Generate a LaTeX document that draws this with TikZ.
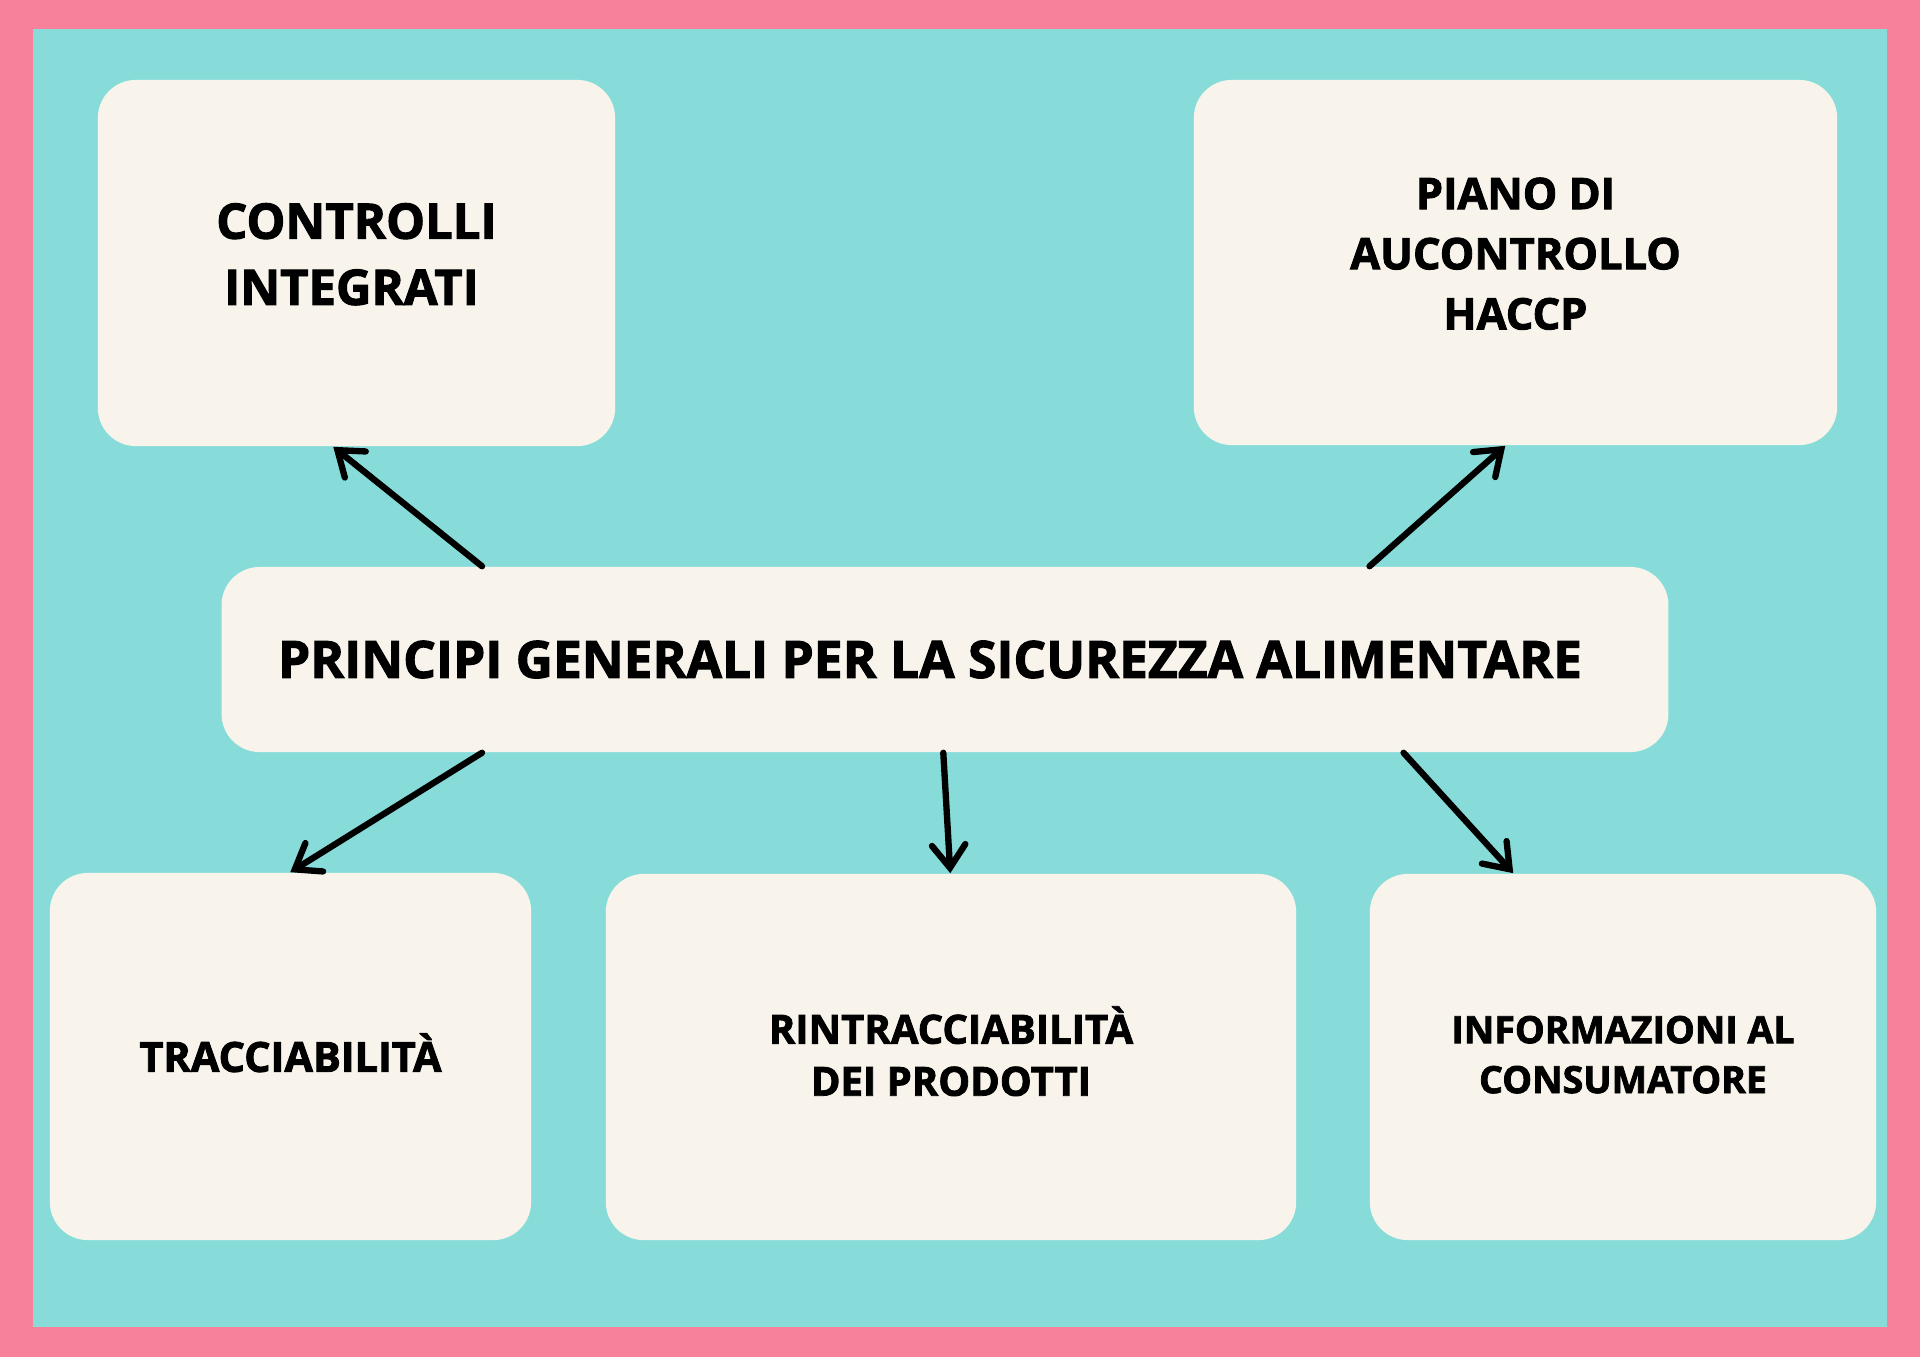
\documentclass[tikz,border=0pt]{standalone}
\usepackage{fontspec}
\setmainfont{Open Sans}[BoldFeatures={FakeBold=2}]
\usetikzlibrary{arrows.meta}
\definecolor{rim}{HTML}{F7819A}
\definecolor{lagoon}{HTML}{87DCDA}
\definecolor{cream}{HTML}{F8F4EC}

\begin{document}
\begin{tikzpicture}[x=0.01cm,y=-0.01cm,
	card/.style={fill=cream,rounded corners=0.38cm,inner sep=0pt,align=center},
	arr/.style={-{Straight Barb[length=6.5pt,width=9.5pt,line cap=round]},line width=1.8pt,line cap=round}]
%
	\fill[rim] (0,0) rectangle (1920,1357);
	\fill[lagoon] (33,29) rectangle (1887,1327);
%
	\node[card,minimum width=14.46cm,minimum height=1.85cm,font=\fontsize{14.64}{18}\bfseries] (main) at (945,659.5) {PRINCIPI GENERALI PER LA SICUREZZA ALIMENTARE\hspace*{0.3cm}};
	\node[card,minimum width=5.17cm,minimum height=3.66cm,text depth=0.18cm,font=\fontsize{13.94}{18.8}\bfseries] (ctrl) at (356.5,263) {CONTROLLI\\INTEGRATI\hspace*{0.1cm}};
	\node[card,minimum width=6.43cm,minimum height=3.65cm,text depth=0.18cm,font=\fontsize{12.35}{17.1}\bfseries] (haccp) at (1515.5,262.5) {PIANO DI\\AUCONTROLLO\\HACCP};
	\node[card,minimum width=4.81cm,minimum height=3.67cm,text depth=0.08cm,font=\fontsize{11.8}{15}\bfseries] (tracc) at (290.5,1056.5) {TRACCIABILITÀ};
	\node[card,minimum width=6.90cm,minimum height=3.66cm,text depth=0.12cm,font=\fontsize{11.4}{14.8}\bfseries] (rintr) at (951,1057) {RINTRACCIABILITÀ\\DEI PRODOTTI};
	\node[card,minimum width=5.06cm,minimum height=3.66cm,text depth=0.05cm,font=\fontsize{10.67}{14.2}\bfseries] (info) at (1623,1057) {INFORMAZIONI AL\\CONSUMATORE};
%
	\draw[arr] ([xshift=2.61cm]main.north west) -- ([xshift=2.36cm]ctrl.south west);
	\draw[arr] ([xshift=11.48cm]main.north west) -- ([xshift=3.12cm]haccp.south west);
	\draw[arr] ([xshift=2.61cm]main.south west) -- ([xshift=2.41cm]tracc.north west);
	\draw[arr] ([xshift=7.22cm]main.south west) -- ([xshift=3.45cm]rintr.north west);
	\draw[arr] ([xshift=11.82cm]main.south west) -- ([xshift=1.44cm]info.north west);
\end{tikzpicture}
\end{document}
